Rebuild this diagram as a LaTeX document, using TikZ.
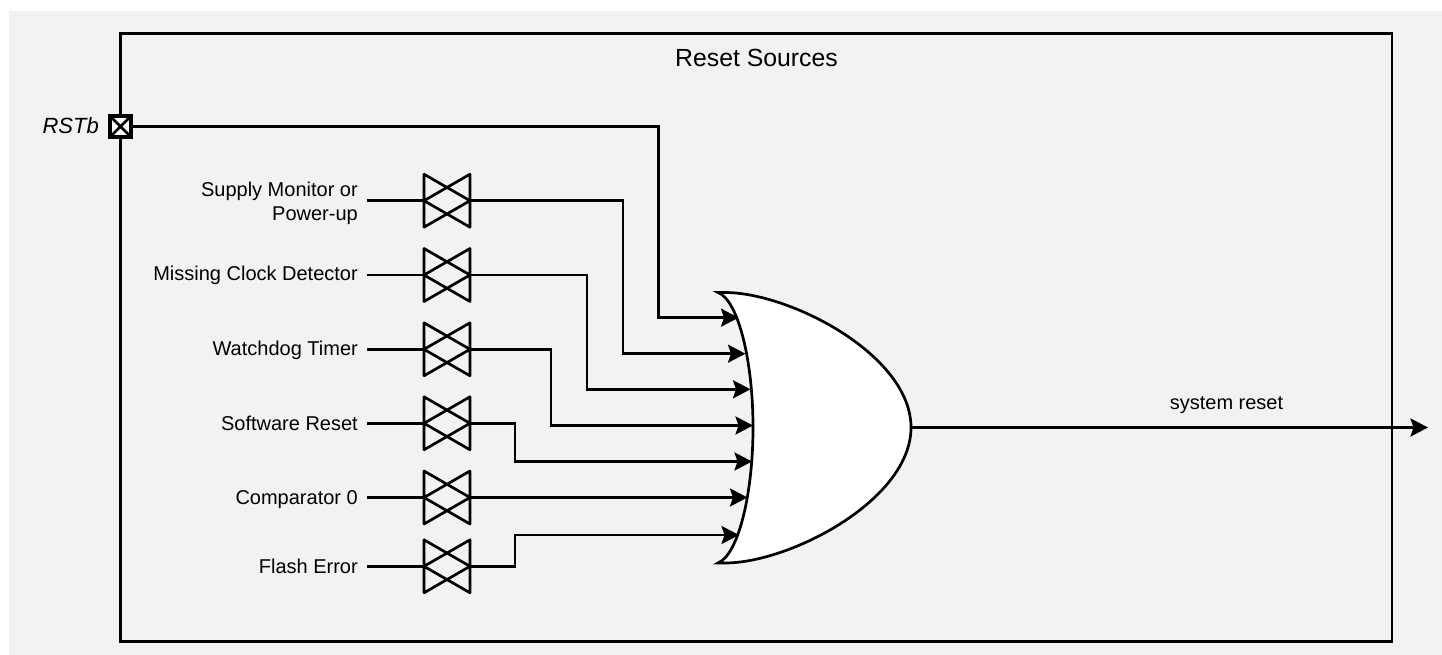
\documentclass[tikz,border=0pt]{standalone}
\usepackage{fontspec}
\setmainfont{Liberation Sans}
\usetikzlibrary{arrows.meta,positioning}
\definecolor{bgray}{HTML}{F2F2F2}
\tikzset{
  x=1pt,y=-1pt,
  wire/.style={line width=2.7pt,line join=miter},
  sig/.style={wire,-{Stealth[length=17.5pt,width=18pt,inset=3pt]}},
  valvebox/.style={minimum width=46pt,minimum height=53pt,inner sep=0pt,outer sep=0pt},
  lbl/.style={font=\fontsize{20}{24.3}\selectfont,inner sep=0pt,align=right,anchor=base east},
  txt/.style={font=\fontsize{20}{24}\selectfont,inner sep=0pt},
}
\newcommand{\valvedraw}[1]{%
  \draw[wire,line join=round,line cap=round] (#1.north west)--(#1.south west)
    (#1.north east)--(#1.south east)
    (#1.north west)--(#1.east)--(#1.south west)
    (#1.north east)--(#1.west)--(#1.south east);}
\begin{document}
\begin{tikzpicture}
\useasboundingbox (0,0) rectangle (1442,655);
\fill[bgray] (9,11) rectangle (1442,655);
\node[draw,line width=2.7pt,minimum width=1271.5pt,minimum height=608pt,inner sep=0pt,outer sep=0pt,anchor=north west] (frame) at (120.5,33.5) {};
\node[txt,font=\fontsize{24.8}{30}\selectfont] (title) at (756.5,58) {Reset Sources};
\node[draw,line width=3.6pt,fill=white,minimum size=21pt,inner sep=0pt,outer sep=0pt] (port) at (120.5,126.5) {};
\draw[line width=2.7pt] (port.north west)--(port.south east) (port.north east)--(port.south west);
\node[txt,font=\fontsize{22}{26}\selectfont\itshape,anchor=east] (rst) at (99,125.5) {RSTb};
% gate
\node[minimum width=193pt,minimum height=270pt,inner sep=0pt,outer sep=0pt,anchor=north west] (gate) at (718,292.5) {};
\filldraw[wire,fill=white] (718,292.5) .. controls (738,300) and (753,360) .. (753,427.5)
  .. controls (753,495) and (738,555) .. (718,563)
  -- (725,563) .. controls (790,563) and (911,500) .. (911,427.5)
  .. controls (911,355) and (790,292.5) .. (725,292.5) -- cycle;
\coordinate (g0) at (738.5,317.7);
\coordinate (g1) at (745.5,353.7);
\coordinate (g2) at (750.5,389.3);
\coordinate (g3) at (753,425.5);
\coordinate (g4) at (752,461.5);
\coordinate (g5) at (747.5,497.5);
\coordinate (g6) at (739,535);
\coordinate (out) at (1428,427.5);
% valves
\foreach \n/\yy in {1/200.7,2/275,3/349.3,4/423.3,5/497.5,6/566.3}{
  \node[valvebox] (v\n) at (447,\yy) {};
  \valvedraw{v\n}
  \coordinate (s\n) at (367,\yy);
  \draw[wire] (s\n)--(v\n.west);
}
\node[lbl,anchor=east] (l1) at (358,203.5) {Supply Monitor or\\Power-up};
\node[lbl] (l2) at (358,280.7) {Missing Clock Detector};
\node[lbl] (l3) at (358,355) {Watchdog Timer};
\node[lbl] (l4) at (358,430) {Software Reset};
\node[lbl] (l5) at (358,504) {Comparator 0};
\node[lbl] (l6) at (358,573.3) {Flash Error};
% wires
\draw[sig] (port.east) -| (658.5,317.7) -- (g0);
\draw[sig] (v1.east) -| (623,353.7) -- (g1);
\draw[sig] (v2.east) -| (587,389.3) -- (g2);
\draw[sig] (v3.east) -| (551,425.5) -- (g3);
\draw[sig] (v4.east) -| (515,461.5) -- (g4);
\draw[sig] (v5.east) -- (g5);
\draw[sig] (v6.east) -| (515,535) -- (g6);
\draw[sig] (gate.east) -- (out);
\node[txt] (sr) at (1226.5,405) {system reset};
\end{tikzpicture}
\end{document}
